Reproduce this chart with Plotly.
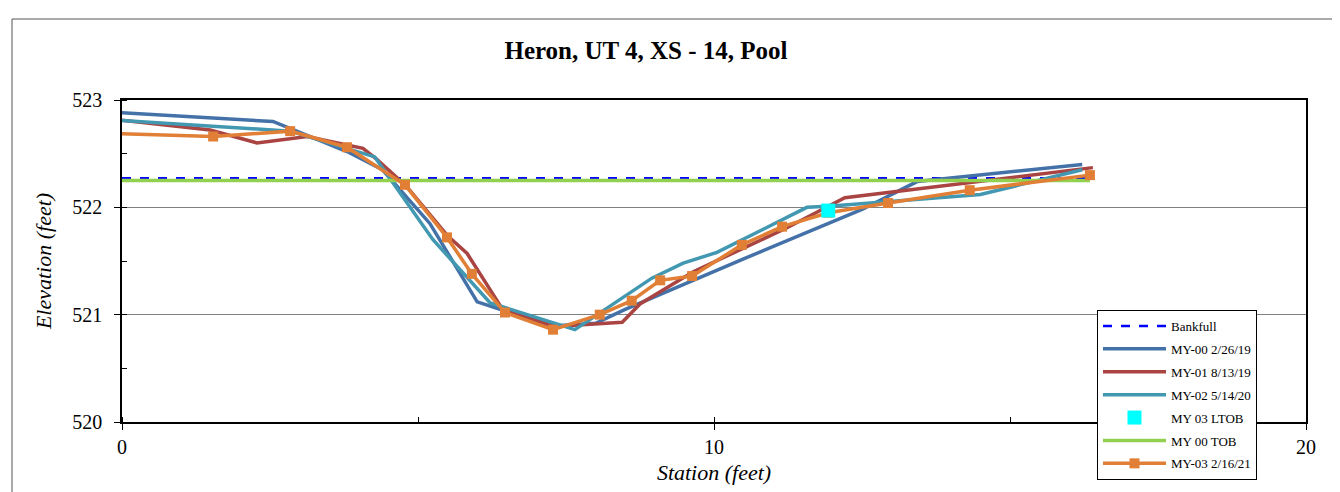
import plotly.graph_objects as go

# ---------------- data ----------------
bank_x = [0, 16.35]
bank_y = [522.27, 522.27]

my00_x = [-0.3, 2.55, 3.80, 4.40, 5.20, 6.00, 6.50, 7.40, 8.00, 8.50, 10.50, 12.50, 13.43, 16.22]
my00_y = [522.89, 522.80, 522.52, 522.35, 521.85, 521.12, 521.03, 520.90, 520.92, 521.05, 521.52, 521.98, 522.24, 522.40]

my01_x = [-0.3, 1.49, 2.28, 3.13, 4.07, 4.30, 4.80, 5.49, 5.83, 6.44, 7.30, 8.45, 8.75, 9.65, 10.50, 11.20, 12.21, 16.40]
my01_y = [522.83, 522.72, 522.60, 522.66, 522.55, 522.45, 522.20, 521.74, 521.57, 521.04, 520.89, 520.93, 521.10, 521.40, 521.62, 521.80, 522.09, 522.37]

my02_x = [-0.3, 2.84, 4.27, 5.25, 6.22, 7.65, 8.95, 9.48, 10.05, 11.57, 11.93, 14.50, 16.22]
my02_y = [522.82, 522.71, 522.47, 521.70, 521.11, 520.86, 521.34, 521.48, 521.58, 522.00, 522.01, 522.12, 522.35]

ltob_x = [11.93]
ltob_y = [521.97]

tob_x = [0, 16.35]
tob_y = [522.25, 522.25]

my03_x = [-0.3, 1.54, 2.84, 3.80, 4.78, 5.49, 5.91, 6.47, 7.28, 8.07, 8.61, 9.09, 9.63, 10.47, 11.15, 11.93, 12.94, 14.32, 16.35]
my03_y = [522.69, 522.66, 522.71, 522.56, 522.21, 521.72, 521.38, 521.02, 520.86, 521.00, 521.13, 521.32, 521.36, 521.65, 521.82, 521.95, 522.04, 522.16, 522.30]

x_ticks = [0, 10, 20]
y_ticks = [520, 521, 522, 523]

# ---------------- figure ----------------
SERIF = "Liberation Serif, Times New Roman, serif"
W, H = 1332, 484
fig = go.Figure()

fig.add_trace(go.Scatter(x=bank_x, y=bank_y, mode="lines", name="Bankfull",
                         line=dict(color="#0000FF", width=2.5, dash="dash"),
                         legendgroup="a", legendrank=1))
fig.add_trace(go.Scatter(x=my00_x, y=my00_y, mode="lines", name="MY-00 2/26/19",
                         line=dict(color="#4472A8", width=3.5),
                         legendgroup="b", legendrank=2))
fig.add_trace(go.Scatter(x=my01_x, y=my01_y, mode="lines", name="MY-01 8/13/19",
                         line=dict(color="#A94442", width=3.5),
                         legendgroup="c", legendrank=3))
fig.add_trace(go.Scatter(x=my02_x, y=my02_y, mode="lines", name="MY-02 5/14/20",
                         line=dict(color="#4298B0", width=3.5),
                         legendgroup="d", legendrank=4))
fig.add_trace(go.Scatter(x=tob_x, y=tob_y, mode="lines", name="MY 00 TOB",
                         line=dict(color="#92D050", width=3.5),
                         legendgroup="f", legendrank=6))
fig.add_trace(go.Scatter(x=my03_x, y=my03_y, mode="lines+markers", name="MY-03 2/16/21",
                         line=dict(color="#E07F35", width=3.5),
                         marker=dict(symbol="square", size=10, color="#E07F35"),
                         legendgroup="g", legendrank=7))
fig.add_trace(go.Scatter(x=ltob_x, y=ltob_y, mode="markers", name="MY 03 LTOB",
                         marker=dict(symbol="square", size=14, color="#00FFFF"),
                         legendgroup="e", legendrank=5))

fig.update_layout(
    width=W, height=H,
    margin=dict(l=114, r=W - 114 - 1184, t=92, b=H - 92 - 322, autoexpand=False),
    paper_bgcolor="white", plot_bgcolor="white",
    font=dict(family=SERIF, color="black"),
    title=dict(text="<b>Heron, UT 4, XS - 14, Pool</b>", x=(646 - 8) / W, xref="container",
               xanchor="center", y=1 - (50 - 8) / H, yanchor="middle",
               font=dict(family=SERIF, size=25, color="black")),
    showlegend=True,
    legend=dict(x=(1097 - 122) / 1184, y=(422 - 310) / 322, xanchor="left", yanchor="top",
                bgcolor="white", bordercolor="black", borderwidth=1,
                font=dict(family=SERIF, size=13, color="black"),
                itemwidth=63,
                tracegroupgap=3, traceorder="grouped"),
)

fig.update_xaxes(range=[0, 20], tickvals=x_ticks, ticktext=[str(v) for v in x_ticks],
                 showgrid=False, zeroline=False,
                 showline=True, linecolor="black", linewidth=1.5, mirror=True,
                 ticks="outside", ticklen=6, tickcolor="black",
                 minor=dict(dtick=5, ticks="inside", ticklen=5, tickcolor="black", showgrid=False),
                 tickfont=dict(family=SERIF, size=20, color="black"),
                 title=dict(text="<i>Station (feet)</i>", standoff=8,
                            font=dict(family=SERIF, size=22, color="black")))
fig.update_yaxes(range=[520, 523], tickvals=y_ticks, ticktext=[str(v) for v in y_ticks],
                 showgrid=True, gridcolor="#808080", gridwidth=1, zeroline=False,
                 showline=True, linecolor="black", linewidth=1.5, mirror=True,
                 ticks="outside", ticklen=6, tickcolor="black", ticklabelstandoff=8,
                 minor=dict(dtick=0.5, ticks="inside", ticklen=5, tickcolor="black", showgrid=False),
                 tickfont=dict(family=SERIF, size=20, color="black"),
                 title=dict(text="<i>Elevation (feet)</i>", standoff=15,
                            font=dict(family=SERIF, size=22, color="black")))

# outer chart frame
fig.add_shape(type="rect", xref="paper", yref="paper",
              x0=(12 - 122) / 1184, x1=1.1, y0=-0.4, y1=(422 - 19) / 322,
              line=dict(color="#555555", width=1), fillcolor="rgba(0,0,0,0)", layer="below")

fig.write_html("out.html")
